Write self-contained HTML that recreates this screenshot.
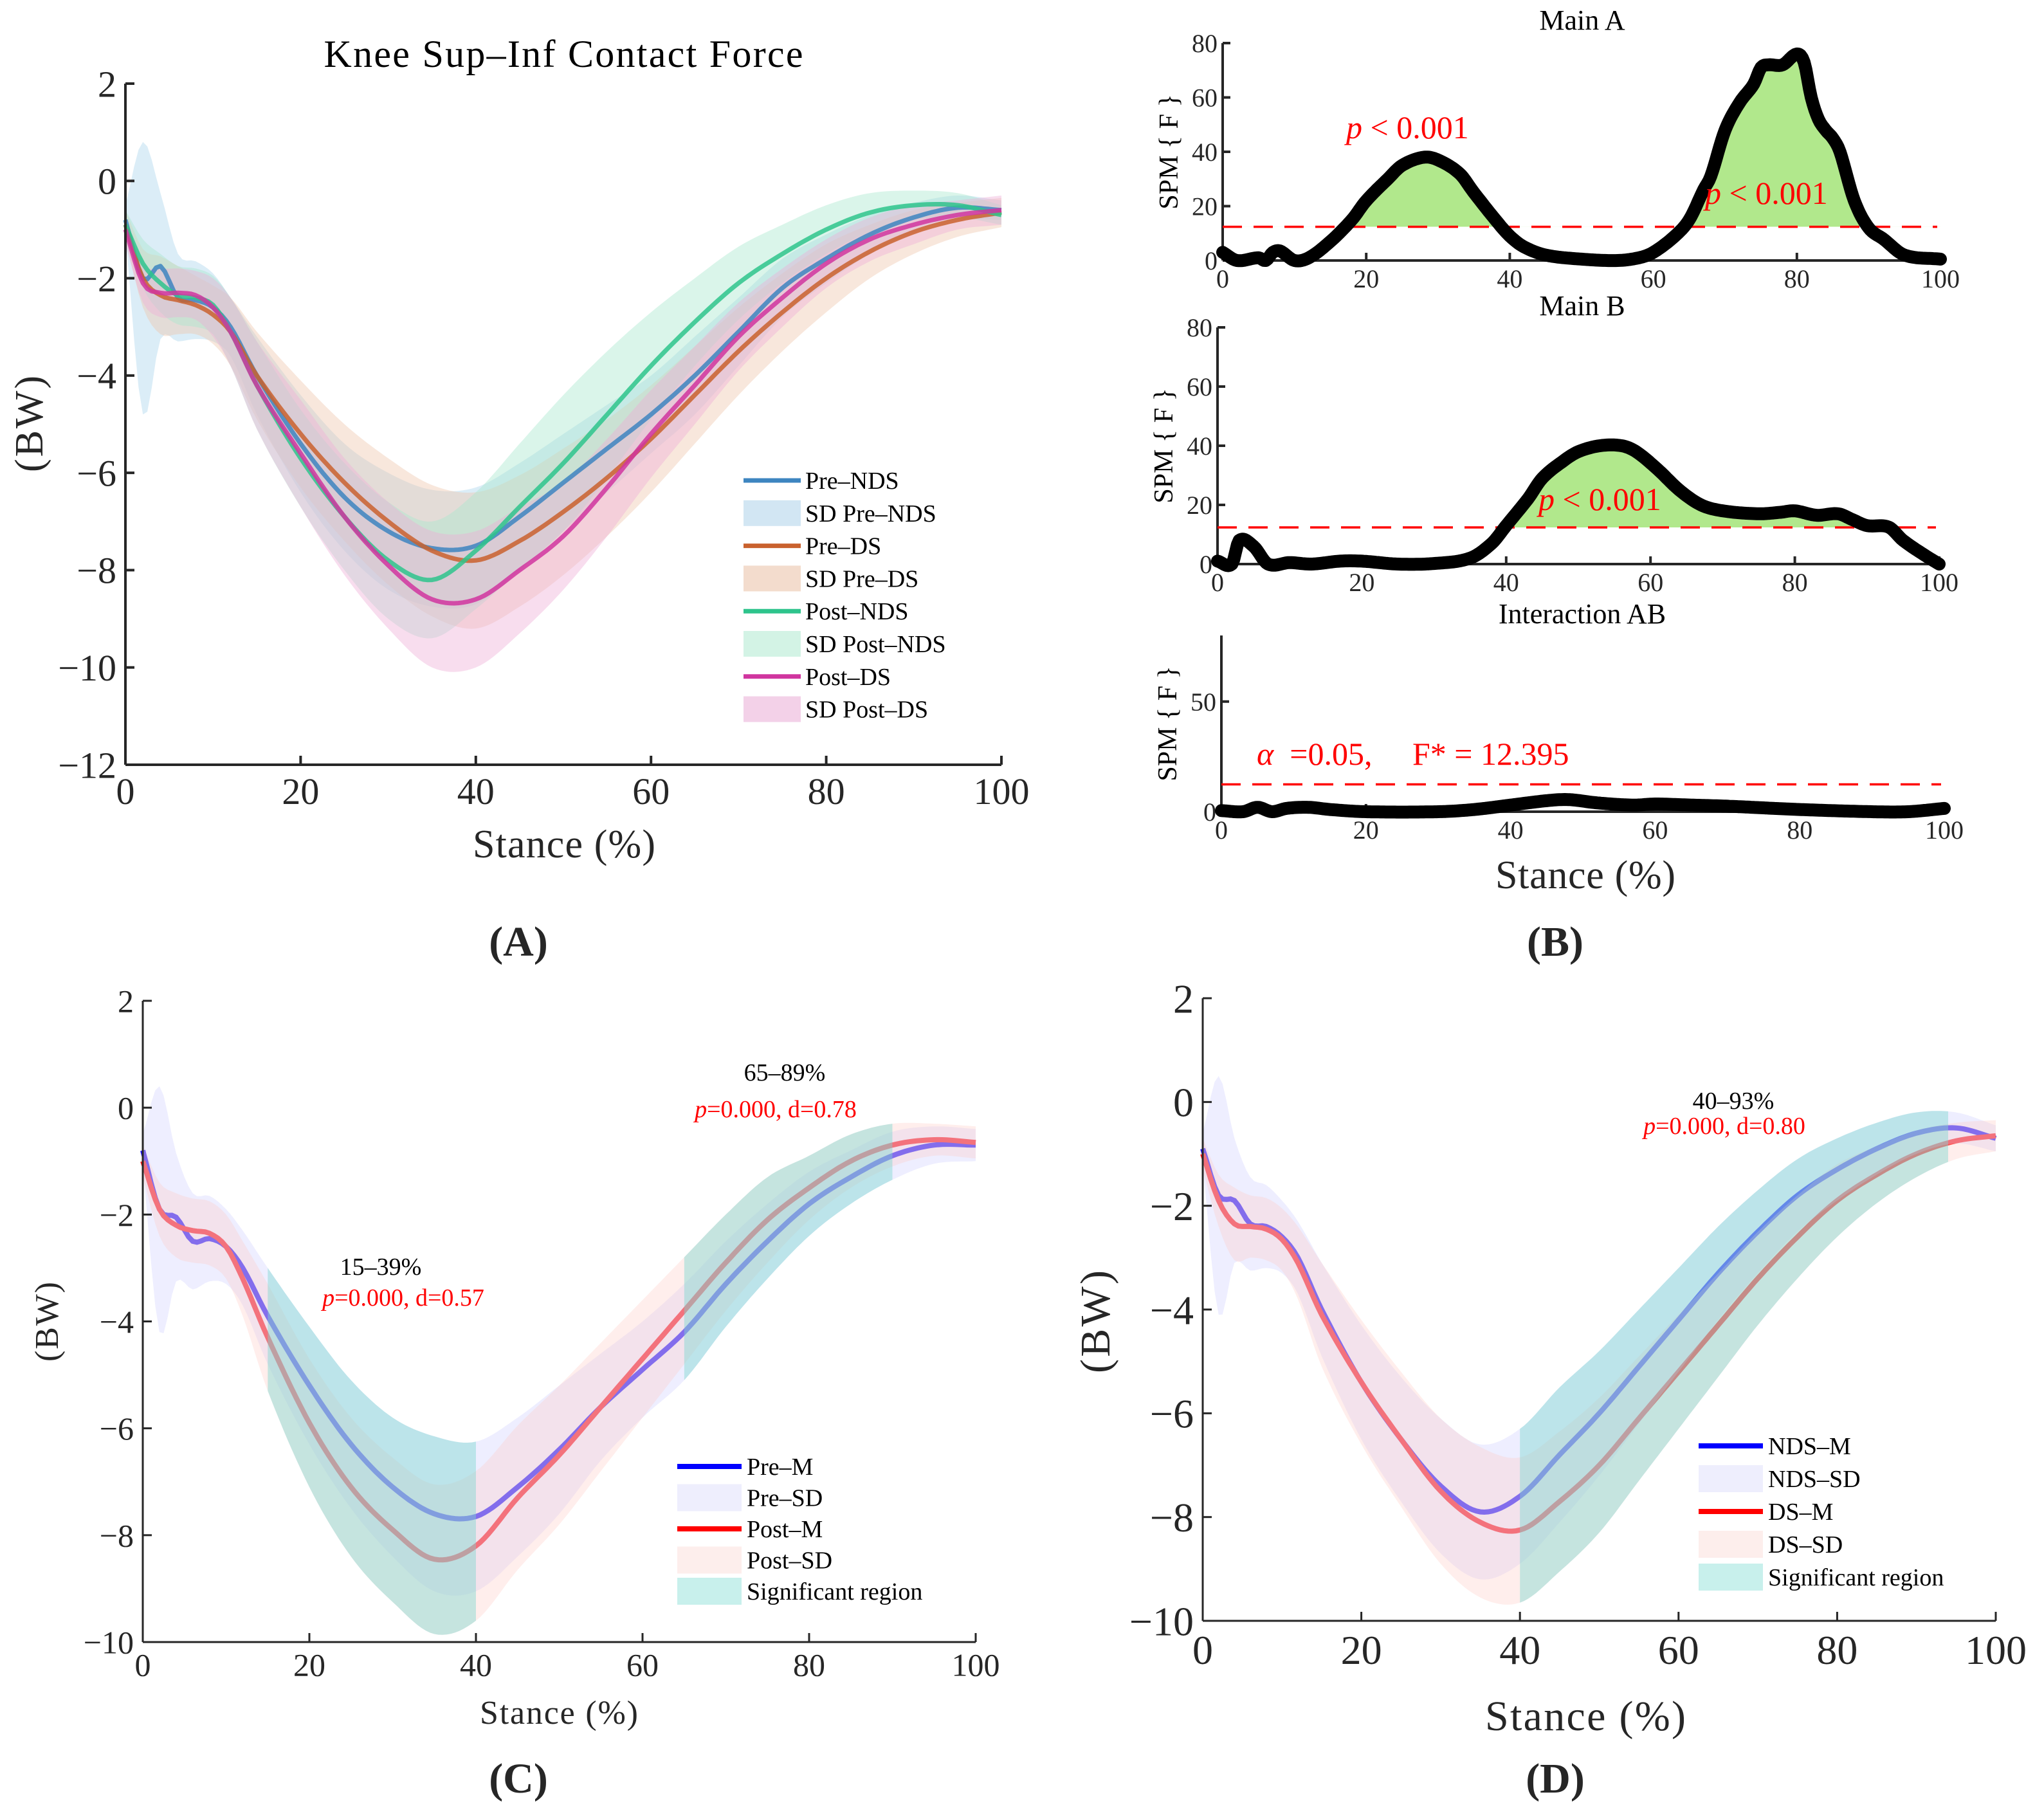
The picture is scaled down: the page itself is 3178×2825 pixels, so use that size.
<!DOCTYPE html>
<html><head><meta charset="utf-8"><style>
html,body{margin:0;padding:0;background:#fff;}
svg{display:block;font-family:"Liberation Serif",serif;}
text{white-space:pre;}
</style></head><body>
<svg id="fig" xmlns="http://www.w3.org/2000/svg" width="3178" height="2825" viewBox="0 0 3178 2825">
<rect width="3178" height="2825" fill="#fff"/>
</svg>
<script>
// ---------- Panel A data ----------
const xsA = [0,2,4,6,8,10,12,15,20,25,30,35,40,45,50,55,60,65,70,75,80,85,90,95,100];
const preNdsMean = [-0.8,-2.0,-1.75,-2.4,-2.45,-2.6,-3.0,-4.0,-5.4,-6.5,-7.2,-7.55,-7.5,-6.9,-6.2,-5.5,-4.8,-4.0,-3.1,-2.2,-1.6,-1.1,-0.75,-0.55,-0.6];
const preNdsSd = [0.3,2.8,1.5,0.9,0.8,0.7,0.6,0.8,1.0,1.1,1.2,1.2,1.2,1.1,1.0,0.9,0.8,0.8,0.7,0.6,0.5,0.4,0.3,0.25,0.2];
const preDsMean = [-0.9,-2.0,-2.35,-2.45,-2.55,-2.75,-3.1,-4.0,-5.2,-6.2,-7.0,-7.6,-7.8,-7.4,-6.8,-6.1,-5.3,-4.4,-3.5,-2.7,-2.0,-1.45,-1.05,-0.8,-0.65];
const preDsSd = [0.3,0.6,0.8,0.7,0.6,0.6,0.7,0.9,1.1,1.2,1.3,1.35,1.4,1.35,1.3,1.2,1.1,1.0,0.9,0.8,0.7,0.55,0.45,0.35,0.3];
const postNdsMean = [-0.9,-1.7,-2.1,-2.35,-2.4,-2.55,-3.1,-4.2,-5.7,-6.9,-7.8,-8.2,-7.6,-6.7,-5.8,-4.8,-3.8,-2.9,-2.1,-1.5,-1.0,-0.65,-0.5,-0.5,-0.7];
const postNdsSd = [0.3,0.5,0.6,0.6,0.6,0.6,0.7,0.9,1.0,1.1,1.2,1.2,1.2,1.3,1.4,1.3,1.1,0.9,0.75,0.6,0.5,0.4,0.3,0.25,0.2];
const postDsMean = [-1.0,-2.1,-2.3,-2.3,-2.35,-2.6,-3.1,-4.2,-5.6,-6.9,-7.9,-8.6,-8.6,-8.0,-7.3,-6.3,-5.2,-4.2,-3.2,-2.4,-1.7,-1.2,-0.9,-0.7,-0.6];
const postDsSd = [0.3,0.4,0.5,0.5,0.5,0.6,0.7,0.9,1.1,1.2,1.3,1.4,1.4,1.3,1.1,1.0,0.9,0.8,0.7,0.6,0.5,0.45,0.4,0.3,0.3];
const ticksA_y = [2,0,-2,-4,-6,-8,-10,-12];
const ticksX = [0,20,40,60,80,100];
// ---------- Panel B data ----------
const threshold = 12.395;
const xsMainA = [0,2,5,6,7,8,10,12,15,18,20,23,25,28,30,33,35,38,40,42,45,50,55,58,60,63,65,67,68,70,72,74,75,76,78,80,81,82,83,84,85,86,88,90,92,95,100];
const fMainA = [3,0,1,0,3,3.5,0,1,7,15,22,30,35,38,37,32,25,15,9,5,2,0.5,0,1,3,9,15,26,31,48,58,65,71,72,72,76,73,60,52,48,45,40,22,12,8,2,0.5];
const xsMainB = [0,2,3,5,7,10,13,17,20,25,30,35,38,40,43,45,48,50,53,56,58,61,64,67,70,75,78,80,83,86,88,90,93,95,98,100];
const fMainB = [1,0,8,6,0,0.5,0,1,1,0,0.2,2,7,13,22,29,35,38,40,40,38,32,25,20,18,17,17.5,18,16.5,17,15,13,12.5,8,3,0];
const xsInter = [0,3,5,7,9,12,15,20,30,35,40,45,48,52,57,60,65,70,80,90,95,100];
const fInter = [0.5,0,2,0,1.5,2,1,0,0,1,3,5,5.5,4,3,3.5,3,2.5,1,0,0,1.5];
const ticksB_y = [0,20,40,60,80];
// ---------- Panel C data ----------
const preMean = [-0.8,-1.9,-2.05,-2.5,-2.45,-2.6,-3.0,-3.9,-5.2,-6.3,-7.1,-7.6,-7.65,-7.1,-6.4,-5.6,-4.9,-4.2,-3.3,-2.5,-1.8,-1.3,-0.9,-0.7,-0.7];
const preSd = [0.3,2.3,1.2,0.9,0.8,0.7,0.7,0.9,1.1,1.2,1.3,1.45,1.4,1.3,1.2,1.0,0.9,0.9,0.8,0.7,0.6,0.5,0.45,0.35,0.3];
const postMean = [-1.0,-1.9,-2.2,-2.3,-2.35,-2.6,-3.2,-4.3,-5.9,-7.1,-7.9,-8.45,-8.2,-7.3,-6.5,-5.6,-4.7,-3.8,-2.9,-2.1,-1.5,-1.0,-0.7,-0.6,-0.65];
const postSd = [0.3,0.5,0.6,0.6,0.6,0.6,0.7,1.0,1.2,1.3,1.35,1.4,1.4,1.35,1.3,1.2,1.1,1.0,0.9,0.8,0.6,0.5,0.4,0.3,0.3];
const sigC = [[15,40],[65,90]];
// ---------- Panel D data ----------
const ndsMean = [-0.9,-1.8,-1.9,-2.35,-2.4,-2.6,-3.0,-4.0,-5.4,-6.5,-7.4,-7.9,-7.6,-6.8,-6.0,-5.1,-4.2,-3.3,-2.5,-1.8,-1.3,-0.9,-0.6,-0.5,-0.7];
const ndsSd = [0.3,2.3,1.2,0.9,0.8,0.7,0.7,0.9,1.1,1.2,1.3,1.3,1.3,1.3,1.2,1.1,1.0,0.9,0.8,0.7,0.6,0.5,0.4,0.3,0.25];
const dsMean = [-1.0,-1.9,-2.35,-2.4,-2.45,-2.65,-3.1,-4.1,-5.4,-6.5,-7.5,-8.1,-8.25,-7.7,-7.0,-6.1,-5.2,-4.3,-3.4,-2.6,-1.9,-1.4,-1.0,-0.75,-0.65];
const dsSd = [0.3,0.5,0.7,0.6,0.6,0.6,0.7,1.0,1.2,1.3,1.4,1.45,1.4,1.35,1.3,1.2,1.1,1.0,0.9,0.8,0.7,0.55,0.45,0.35,0.3];
const sigD = [[40,94]];
const ticksCD_y = [2,0,-2,-4,-6,-8,-10];

const NS = "http://www.w3.org/2000/svg";
const svg = document.getElementById('fig');
function el(tag, attrs, parent){ const e=document.createElementNS(NS,tag); for(const k in attrs) e.setAttribute(k,attrs[k]); (parent||svg).appendChild(e); return e; }
function txt(s, attrs, parent){ const e=el('text',attrs,parent); e.textContent=s; return e; }
function axis(x0,x1,xmin,xmax,yTop,yBot,ymax,ymin){
  return {x:v=>x0+(v-xmin)/(xmax-xmin)*(x1-x0), y:v=>yBot-(v-ymin)/(ymax-ymin)*(yBot-yTop), x0,x1,yTop,yBot};
}
function dense(xs, ys, step){
  const ox=[],oy=[]; const n=xs.length;
  for(let i=0;i<n-1;i++){
    const p0=ys[Math.max(0,i-1)],p1=ys[i],p2=ys[i+1],p3=ys[Math.min(n-1,i+2)];
    const x0=xs[Math.max(0,i-1)],x1=xs[i],x2=xs[i+1],x3=xs[Math.min(n-1,i+2)];
    const m1=(p2-p0)/((x2-x0)||1)*(x2-x1), m2=(p3-p1)/((x3-x1)||1)*(x2-x1);
    const k=Math.max(2,Math.round((x2-x1)/step));
    for(let j=0;j<k;j++){const t=j/k,t2=t*t,t3=t2*t;
      ox.push(x1+(x2-x1)*t);
      oy.push((2*t3-3*t2+1)*p1+(t3-2*t2+t)*m1+(-2*t3+3*t2)*p2+(t3-t2)*m2);}
  }
  ox.push(xs[n-1]); oy.push(ys[n-1]); return [ox,oy];
}
function linePath(ax,dx,dy){ return dx.map((v,i)=>(i?'L':'M')+ax.x(v).toFixed(1)+','+ax.y(dy[i]).toFixed(1)).join(''); }
function bandPath(ax,dx,lo,hi){
  let d=dx.map((v,i)=>(i?'L':'M')+ax.x(v).toFixed(1)+','+ax.y(hi[i]).toFixed(1)).join('');
  for(let i=dx.length-1;i>=0;i--) d+='L'+ax.x(dx[i]).toFixed(1)+','+ax.y(lo[i]).toFixed(1);
  return d+'Z';
}
function drawAxes(g,ax,yt,xt,fs,tick,lw,ylabOff){
  el('line',{x1:ax.x0,y1:ax.yTop,x2:ax.x0,y2:ax.yBot,stroke:'#262626','stroke-width':lw},g);
  el('line',{x1:ax.x0,y1:ax.yBot,x2:ax.x1,y2:ax.yBot,stroke:'#262626','stroke-width':lw},g);
  yt.forEach(v=>{ const y=ax.y(v);
    el('line',{x1:ax.x0,y1:y,x2:ax.x0+tick,y2:y,stroke:'#262626','stroke-width':lw},g);
    const t=txt(String(v).replace('-','\u2212'),{x:ax.x0-(ylabOff||12),y:y+fs*0.35,'text-anchor':'end','font-size':fs,fill:'#262626'},g);
     
  });
  xt.forEach(v=>{ const x=ax.x(v);
    el('line',{x1:x,y1:ax.yBot,x2:x,y2:ax.yBot-tick,stroke:'#262626','stroke-width':lw},g);
    const t=txt(String(v),{x:x,y:ax.yBot+fs*1.05,'text-anchor':'middle','font-size':fs,fill:'#262626'},g);
     
  });
}
function group(name){ const g=el('g',{});   return g; }

// ================= Panel A =================
(function(){
  const g=group('panel-a-chart');
  const ax=axis(195,1557,0,100,130,1189,2,-12);
  const series=[
    {n:'pre-nds',m:preNdsMean,s:preNdsSd,c:'#3d85c0',f:'#a9d3ec'},
    {n:'pre-ds',m:preDsMean,s:preDsSd,c:'#c9612e',f:'#efc6ac'},
    {n:'post-nds',m:postNdsMean,s:postNdsSd,c:'#2ec48c',f:'#a6e8cc'},
    {n:'post-ds',m:postDsMean,s:postDsSd,c:'#d0359f',f:'#eeadd6'}];
  series.forEach(se=>{
    const [dx,dy]=dense(xsA,se.m,0.5); const [,ds]=dense(xsA,se.s,0.5);
    const p=el('path',{d:bandPath(ax,dx,dy.map((v,i)=>v-ds[i]),dy.map((v,i)=>v+ds[i])),fill:se.f,'fill-opacity':0.42,stroke:'none'},g);
     
  });
  series.forEach(se=>{
    const [dx,dy]=dense(xsA,se.m,0.5);
    const p=el('path',{d:linePath(ax,dx,dy),fill:'none',stroke:se.c,'stroke-opacity':0.85,'stroke-width':7,'stroke-linejoin':'round'},g);
     
  });
  drawAxes(g,ax,ticksA_y,ticksX,58,14,4,14);
  const t=txt('Knee Sup\u2013Inf Contact Force',{x:876,y:104,'text-anchor':'middle','font-size':60,fill:'#000',textLength:745},g);
   
  const xl=txt('Stance (%)',{x:877,y:1333,'text-anchor':'middle','font-size':62,fill:'#262626',textLength:284},g);
   
  const yl=txt('(BW)',{x:0,y:0,'text-anchor':'middle','font-size':62,fill:'#262626',transform:'translate(66,659) rotate(-90)',textLength:150},g);
   
  const lab=[['Pre\u2013NDS','line','#3d85c0'],['SD Pre\u2013NDS','patch','#d2e6f3'],['Pre\u2013DS','line','#c9612e'],['SD Pre\u2013DS','patch','#f3dccd'],['Post\u2013NDS','line','#2ec48c'],['SD Post\u2013NDS','patch','#d3f3e5'],['Post\u2013DS','line','#d0359f'],['SD Post\u2013DS','patch','#f3d1e8']];
  const lg=group('legend'); g.appendChild(lg);
  lab.forEach((l,i)=>{ const y=747+i*50.8;
    const e=l[1]=='line'?el('line',{x1:1156,y1:y,x2:1245,y2:y,stroke:l[2],'stroke-width':7},lg):el('rect',{x:1156,y:y-20,width:89,height:40,fill:l[2]},lg);
     
    const t=txt(l[0],{x:1252,y:y+13,'font-size':38,fill:'#000'},lg);
     
  });
  const pl=txt('(A)',{x:806,y:1486,'text-anchor':'middle','font-size':66,'font-weight':'bold',fill:'#262626'});
   
})();

// ================= Panel B =================
function spm(name,title,titleY,xs,fs,ax,yt,annots){
  const g=group(name);
  const [dx,dy]=dense(xs,fs,0.25);
  const ty=ax.y(threshold);
  const cid='clip-'+name;
  const cp=el('clipPath',{id:cid},g); el('rect',{x:ax.x0,y:0,width:ax.x1-ax.x0,height:ty},cp);
  let d=linePath(ax,dx,dy)+'L'+ax.x(100)+','+ty+'L'+ax.x(0)+','+ty+'Z';
  const fl=el('path',{d:d,fill:'#b1e88c',stroke:'none','clip-path':'url(#'+cid+')'},g);
   
  drawAxes(g,ax,yt,ticksX,40,12,4,8);
  const th=el('line',{x1:ax.x0,y1:ty,x2:ax.x1-5,y2:ty,stroke:'#ff0000','stroke-width':3.5,'stroke-dasharray':'30 18'},g);
   
  const ln=el('path',{d:linePath(ax,dx,dy),fill:'none',stroke:'#000','stroke-width':20,'stroke-linejoin':'round','stroke-linecap':'round'},g);
   
  const t=txt(title,{x:2460,y:titleY,'text-anchor':'middle','font-size':44,fill:'#000'},g);
   
  const yc=(ax.yTop+ax.yBot)/2;
  const yl=txt('SPM { F }',{x:0,y:0,'text-anchor':'middle','font-size':42,fill:'#000',transform:'translate('+(ax.x0-70)+','+yc+') rotate(-90)'},g);
   
  annots.forEach(a=>{ const e=el('text',{x:a[0],y:a[1],'font-size':50,fill:'#ff0000'},g);
     
    const s=document.createElementNS(NS,'tspan'); s.setAttribute('font-style','italic'); s.textContent='p'; e.appendChild(s);
    e.appendChild(document.createTextNode(' < 0.001'));});
  return g;
}
spm('main-a-chart','Main A',46,xsMainA,fMainA,axis(1901,3017,0,100,67,405,80,0),ticksB_y,[[2093,215],[2651,317]]);
spm('main-b-chart','Main B',490,xsMainB,fMainB,axis(1893,3015,0,100,509,877,80,0),ticksB_y,[[2392,793]]);
(function(){
  const g=spm('interaction-ab-chart','Interaction AB',969,xsInter,fInter,axis(1899,3023,0,100,988,1262,80,0),[0,50],[]);
  const a=el('text',{x:1954,y:1189,'font-size':50,fill:'#ff0000'},g);
   
  const s=document.createElementNS(NS,'tspan'); s.setAttribute('font-style','italic'); s.textContent='\u03b1'; a.appendChild(s);
  a.appendChild(document.createTextNode('  =0.05,     F* = 12.395'));
  const xl=txt('Stance (%)',{x:2465,y:1381,'text-anchor':'middle','font-size':62,fill:'#262626',textLength:280},g);
   
  const pl=txt('(B)',{x:2418,y:1486,'text-anchor':'middle','font-size':66,'font-weight':'bold',fill:'#262626'});
   
})();

// ================= Panels C & D =================
function compare(name,ax,mA,sA,mB,sB,sig,fs,legend,legY,legX,xlab,ylab,panel,anns){
  const g=group(name);
  const [dx,dA]=dense(xsA,mA,0.5); const [,dsA]=dense(xsA,sA,0.5);
  const [,dB]=dense(xsA,mB,0.5); const [,dsB]=dense(xsA,sB,0.5);
  const la=el('path',{d:linePath(ax,dx,dA),fill:'none',stroke:'#1a10ff','stroke-width':8},g);
   
  const lb=el('path',{d:linePath(ax,dx,dB),fill:'none',stroke:'#ff1a1a','stroke-width':8},g);
   
  const loA=dA.map((v,i)=>v-dsA[i]),hiA=dA.map((v,i)=>v+dsA[i]),loB=dB.map((v,i)=>v-dsB[i]),hiB=dB.map((v,i)=>v+dsB[i]);
  const ba=el('path',{d:bandPath(ax,dx,loA,hiA),fill:'#c8c8ff','fill-opacity':0.3},g);
   
  const bb=el('path',{d:bandPath(ax,dx,loB,hiB),fill:'#ffc8c0','fill-opacity':0.3},g);
   
  sig.forEach(r=>{ const idx=dx.map((v,i)=>i).filter(i=>dx[i]>=r[0]&&dx[i]<=r[1]);
    const sx=idx.map(i=>dx[i]); const lo=idx.map(i=>Math.min(loA[i],loB[i])); const hi=idx.map(i=>Math.max(hiA[i],hiB[i]));
    const p=el('path',{d:bandPath(ax,sx,lo,hi),fill:'#7fd6d0','fill-opacity':0.45},g);
     });
  drawAxes(g,ax,ticksCD_y,ticksX,fs,14,3,14);
  const lg=group('legend'); g.appendChild(lg);
  legend.forEach((l,i)=>{ const y=legY+i*legend.step;
    const e=l[1]=='line'?el('line',{x1:legX,y1:y,x2:legX+100,y2:y,stroke:l[2],'stroke-width':8},lg):el('rect',{x:legX,y:y-21,width:100,height:42,fill:l[2]},lg);
     
    const t=txt(l[0],{x:legX+108,y:y+13,'font-size':38,fill:'#000'},lg);
     });
  const xl=txt('Stance (%)',{x:xlab[0],y:xlab[1],'text-anchor':'middle','font-size':xlab[2],fill:'#262626',textLength:xlab[3]},g);
   
  const yl=txt('(BW)',{x:0,y:0,'text-anchor':'middle','font-size':ylab[2],fill:'#262626',transform:'translate('+ylab[0]+','+ylab[1]+') rotate(-90)',textLength:ylab[3]},g);
   
  anns.forEach(a=>{ const t1=txt(a[0],{x:a[1],y:a[2],'text-anchor':'middle','font-size':38,fill:'#000'},g);
     
    const e=el('text',{x:a[3],y:a[4],'text-anchor':'middle','font-size':38,fill:'#ff0000'},g);
     
    const s=document.createElementNS(NS,'tspan'); s.setAttribute('font-style','italic'); s.textContent='p'; e.appendChild(s);
    e.appendChild(document.createTextNode(a[5]));});
  const pl=txt(panel[0],{x:panel[1],y:panel[2],'text-anchor':'middle','font-size':66,'font-weight':'bold',fill:'#262626'});
   
}
const legC=[['Pre\u2013M','line','#0000ff'],['Pre\u2013SD','patch','#eeeefd'],['Post\u2013M','line','#ff0000'],['Post\u2013SD','patch','#fdeeec'],['Significant region','patch','#c8f0ec']]; legC.step=48.5;
compare('panel-c-chart',axis(222,1517,0,100,1556,2553,2,-10),preMean,preSd,postMean,postSd,sigC,50,legC,2280,1053,[869,2680,52,246],[90,2055,52,124],['(C)',806,2787],
  [['15\u201339%',592,1982,627,2030,'=0.000, d=0.57'],['65\u201389%',1220,1680,1206,1737,'=0.000, d=0.78']]);
const legD=[['NDS\u2013M','line','#0000ff'],['NDS\u2013SD','patch','#eeeefd'],['DS\u2013M','line','#ff0000'],['DS\u2013SD','patch','#fdeeec'],['Significant region','patch','#c8f0ec']]; legD.step=51;
compare('panel-d-chart',axis(1870,3103,0,100,1552,2520,2,-10),ndsMean,ndsSd,dsMean,dsSd,sigD,64,legD,2248,2641,[2465,2690,66,312],[1725,2055,66,160],['(D)',2418,2787],
  [['40\u201393%',2695,1724,2681,1763,'=0.000, d=0.80']]);
</script>
</body></html>
